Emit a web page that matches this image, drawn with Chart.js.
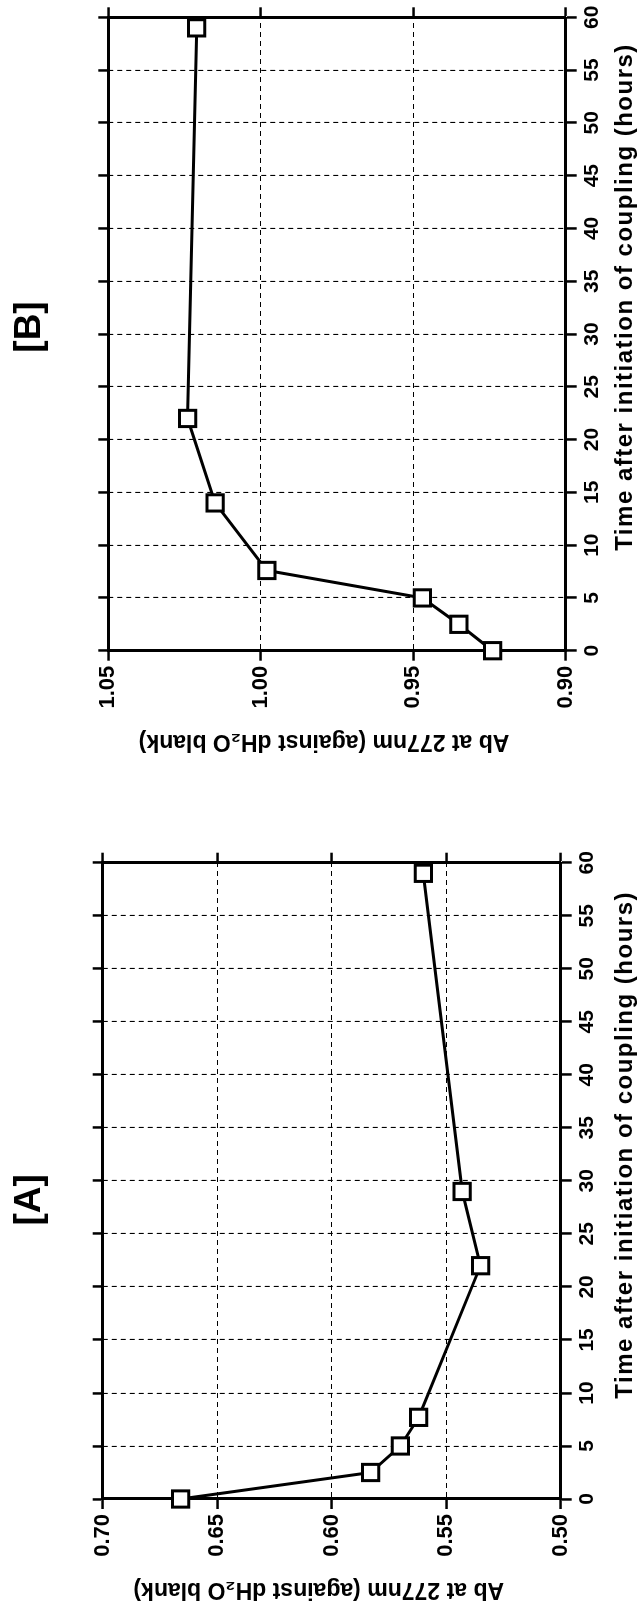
<!DOCTYPE html>
<html>
<head>
<meta charset="utf-8">
<script src="https://cdn.jsdelivr.net/npm/chart.js@4.4.0/dist/chart.umd.min.js"></script>
<style>
    html, body { margin: 0; padding: 0; background: #fff; }
    body { width: 641px; height: 1614px; overflow: hidden; position: relative; }
    /* the figure is laid out wide and then turned a quarter turn, as in the scan */
    #figure {
        position: absolute; left: 0; top: 0;
        width: 1614px; height: 641px;
        transform-origin: 0 0;
        transform: translate(0, 1614px) rotate(-90deg);
    }
    #figure canvas { position: absolute; top: 0; }
    #chartA { left: 0; }
    #chartB { left: 814px; }
</style>
</head>
<body>
<div id="figure">
    <canvas id="chartA" width="800" height="641"></canvas>
    <canvas id="chartB" width="800" height="641"></canvas>
</div>
<script>
// Panel A
const timeA = [0, 2.5, 5, 7.7, 22, 29, 59];
const absA = [0.666, 0.583, 0.570, 0.562, 0.535, 0.543, 0.560];
// Panel B
const timeB = [0, 2.5, 5, 7.6, 14, 22, 59];
const absB = [0.924, 0.935, 0.947, 0.998, 1.015, 1.024, 1.021];

// tick values
const timeTicks = [0, 5, 10, 15, 20, 25, 30, 35, 40, 45, 50, 55, 60];
const absTicksA = [0.50, 0.55, 0.60, 0.65, 0.70];
const absTicksB = [0.90, 0.95, 1.00, 1.05];

const xTitle = 'Time after initiation of coupling (hours)';
const yTitle = 'Ab at 277nm (against dH₂O blank)';

const FONT = '"Liberation Sans", Arial, Helvetica, sans-serif';
Chart.defaults.font.family = FONT;
Chart.defaults.font.weight = 'bold';
Chart.defaults.color = '#000';

// panel label + axis titles, placed relative to the plot area
const captionPlugin = {
    id: 'captions',
    afterDraw(chart, args, opts) {
        const ctx = chart.ctx;
        const a = chart.chartArea;
        const midX = (a.left + a.right) / 2;
        const midY = (a.top + a.bottom) / 2;
        ctx.save();
        ctx.fillStyle = '#000';
        ctx.textAlign = 'center';
        ctx.textBaseline = 'alphabetic';

        ctx.font = 'bold 37px ' + FONT;
        ctx.fillText(opts.panel, midX + opts.panelShift, 40);

        ctx.font = 'bold 24px ' + FONT;
        ctx.letterSpacing = '1.5px';
        ctx.fillText(opts.xTitle, midX + opts.xShift, opts.xBase);
        ctx.letterSpacing = '0px';

        ctx.font = 'bold 23px ' + FONT;
        ctx.translate(a.left - opts.yGap, midY + opts.yShift);
        ctx.rotate(-Math.PI / 2);
        ctx.fillText(opts.yTitle, 0, 0);
        ctx.restore();
    }
};

function buildChart(canvasId, times, values, absTicks, box, captions) {
    const setTicks = list => scale => {
        scale.ticks = list.map(v => ({ value: v }));
    };
    const grid = { color: '#000', lineWidth: 1.1, tickLength: 10, tickWidth: 2.5, tickColor: '#000' };
    const dashed = { color: '#000', width: 3, dash: [5, 4] };
    const solid = { color: '#000', width: 3 };
    const yMin = absTicks[0];
    const yMax = absTicks[absTicks.length - 1];

    return new Chart(document.getElementById(canvasId), {
        type: 'line',
        data: {
            datasets: [{
                data: times.map((t, i) => ({ x: t, y: values[i] })),
                borderColor: '#000',
                borderWidth: 3,
                backgroundColor: '#fff',
                pointStyle: 'rect',
                pointRadius: 11.5,
                pointBorderWidth: 3,
                pointBackgroundColor: '#fff',
                pointBorderColor: '#000',
                tension: 0,
                clip: false
            }]
        },
        options: {
            responsive: false,
            animation: false,
            events: [],
            layout: {
                padding: { left: box.padLeft, right: box.padRight, top: box.padTop, bottom: 0 }
            },
            scales: {
                x: {
                    type: 'linear', position: 'bottom', min: 0, max: 60,
                    afterBuildTicks: setTicks(timeTicks),
                    afterFit: s => { s.height = box.xHeight; },
                    grid: { ...grid, tickLength: 11 },
                    border: dashed,
                    ticks: { font: { size: 21, weight: 'bold' }, padding: 3, maxRotation: 0, autoSkip: false }
                },
                x2: {
                    type: 'linear', position: 'top', min: 0, max: 60,
                    afterBuildTicks: setTicks(timeTicks),
                    afterFit: s => { s.height = 12; },
                    grid: { ...grid, drawOnChartArea: false },
                    border: solid,
                    ticks: { display: false }
                },
                y: {
                    type: 'linear', position: 'left', min: yMin, max: yMax,
                    afterBuildTicks: setTicks(absTicks),
                    afterFit: s => { s.width = 60; },
                    grid: grid,
                    border: dashed,
                    ticks: { font: { size: 22, weight: 'bold' }, padding: 5, callback: v => v.toFixed(2) }
                },
                y2: {
                    type: 'linear', position: 'right', min: yMin, max: yMax,
                    afterBuildTicks: setTicks(absTicks),
                    afterFit: s => { s.width = 12; },
                    grid: { ...grid, drawOnChartArea: false },
                    border: solid,
                    ticks: { display: false }
                }
            },
            plugins: {
                legend: { display: false },
                tooltip: { enabled: false },
                captions: captions
            }
        },
        plugins: [captionPlugin]
    });
}

document.addEventListener('DOMContentLoaded', function () {
    buildChart('chartA', timeA, absA, absTicksA,
        { padLeft: 55, padRight: 36.7, padTop: 90.7, xHeight: 80.3 },
        { panel: '[A]', panelShift: -19, xTitle: xTitle, xShift: 36, xBase: 632,
          yTitle: yTitle, yShift: -13, yGap: 84 });

    buildChart('chartB', timeB, absB, absTicksB,
        { padLeft: 89.3, padRight: 5.3, padTop: 96.3, xHeight: 75.3 },
        { panel: '[B]', panelShift: 7, xTitle: xTitle, xShift: 37, xBase: 632,
          yTitle: yTitle, yShift: -13, yGap: 84 });
});
</script>
</body>
</html>
